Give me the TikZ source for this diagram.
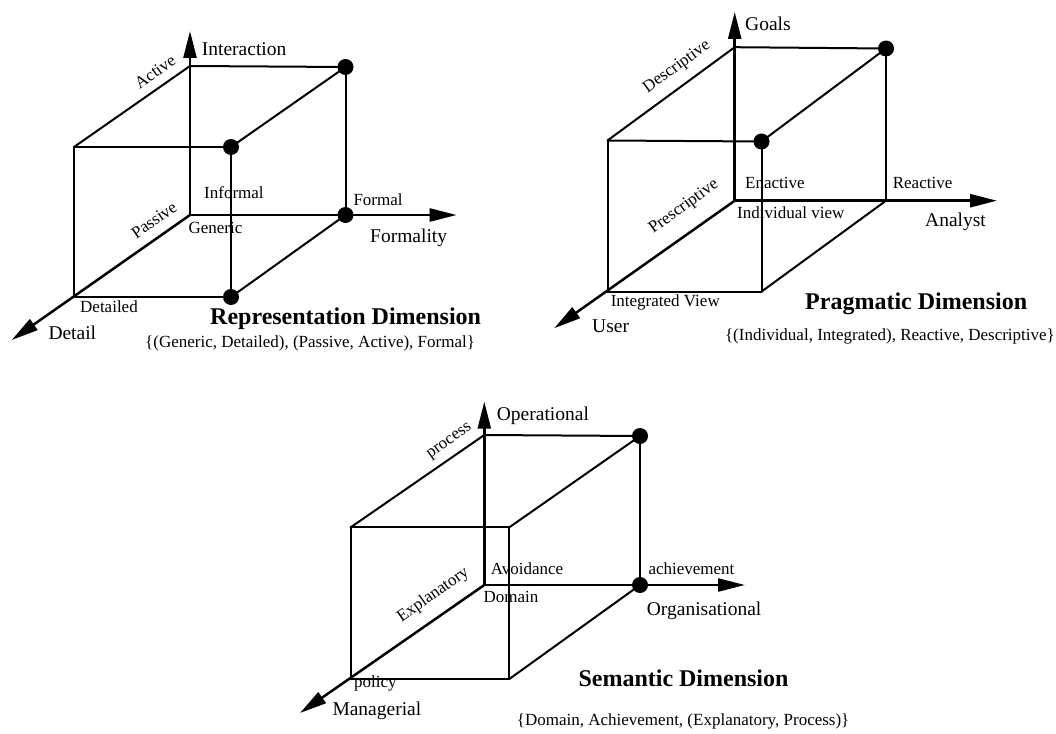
\documentclass[tikz,border=0pt]{standalone}
\usepackage{fontspec}
\setmainfont{Liberation Serif}
\usetikzlibrary{arrows.meta}

\begin{document}
\begin{tikzpicture} [
                x=1pt, y=-1pt,
                edge/.style = {draw, line width=2pt, line cap=round},
                axisline/.style = {draw, line width=2.5pt, -{Triangle[length=27pt,width=13pt]}},
                dot/.style = {circle, fill=black, minimum size=16pt, inner sep=0pt},
                smalltext/.style = {inner sep=0pt, font=\fontsize{17}{20}\selectfont},
                axistext/.style = {inner sep=0pt, font=\fontsize{19.5}{23}\selectfont},
                titletext/.style = {inner sep=0pt, font=\fontsize{24}{28}\selectfont\bfseries},
            ]
            \useasboundingbox (0,0) rectangle (1056,733);
            % First we place the corners of the three cubes
            \foreach \x/\y/\name in {
                    190/215/RO, 190/66/RT, 345.5/67/RU, 345.5/215/RV,
                    74/147/RA, 231/147/RB, 231/297/RC, 74/297/RD,
                    190/31/RY, 456.7/215/RX, 11.7/340/RZ,
                    734.7/200.7/PO, 734.7/47.2/PT, 886/48.5/PU, 886/200.7/PV,
                    607.5/140.5/PA, 761.5/141.5/PB, 761.5/291.6/PC, 607.5/291.6/PD,
                    734.7/12/PY, 997/200.7/PX, 554.2/328.2/PZ,
                    484.3/585/SO, 484.3/435/ST, 640/436/SU, 640/585/SV,
                    350.7/527.3/SA, 509.3/527.3/SB, 509.3/679/SC, 350.7/679/SD,
                    484.3/401.7/SY, 745/585/SX, 300/713/SZ}
                \coordinate (\name) at (\x,\y);
            % Connect corners with edges
            \foreach \cubeid in {R, P, S} {
                \foreach \source/\dest in {
                        A/B, B/C, C/D, D/A, A/T, T/U, U/V, B/U, C/V}
                    \path[edge] (\cubeid\source) -- (\cubeid\dest);
            }
            % the three axes of every cube
            \foreach \cubeid in {R, P, S} {
                \foreach \dest in {X, Y, Z}
                    \path[axisline] (\cubeid O) -- (\cubeid\dest);
            }
            % mark the chosen corners
            \foreach \corner in {RU, RV, RB, RC, PU, PB, SU, SV}
                \node[dot] (dot\corner) at (\corner) {};
            % Representation dimension
            \node[axistext, anchor=west] (interaction) at (201.7,49) {Interaction};
            \node[smalltext, rotate=35] (active) at (155,71.7) {Active};
            \node[smalltext, rotate=35] (passive) at (154,220) {Passive};
            \node[smalltext, anchor=west] (informal) at (204,192.7) {Informal};
            \node[smalltext, anchor=west] (generic) at (188.3,228.3) {Generic};
            \node[smalltext, anchor=west] (formal) at (353.3,200) {Formal};
            \node[axistext, anchor=west] (formality) at (370,238.3) {Formality};
            \node[smalltext, anchor=west] (detailed) at (80,306.7) {Detailed};
            \node[axistext, anchor=west] (detail) at (48.3,332.7) {Detail};
            \node[titletext, anchor=west] (reptitle) at (210,318.3) {Representation Dimension};
            \node[smalltext, anchor=west] (repset) at (145,343.3) {\{(Generic, Detailed), (Passive, Active), Formal\}};
            % Pragmatic dimension
            \node[axistext, anchor=west] (goals) at (745,24) {Goals};
            \node[smalltext, rotate=36] (descriptive) at (677,67) {Descriptive};
            \node[smalltext, rotate=36] (prescriptive) at (684,207) {Prescriptive};
            \node[smalltext, anchor=west] (enactive) at (745,183) {Enactive};
            \node[smalltext, anchor=west] (reactive) at (892.6,183) {Reactive};
            \node[smalltext, anchor=west] (individual) at (737,212.6) {Individual view};
            \node[axistext, anchor=west] (analyst) at (925,222) {Analyst};
            \node[smalltext, anchor=west] (integrated) at (610.6,302.6) {Integrated View};
            \node[axistext, anchor=west] (user) at (592,326.5) {User};
            \node[titletext, anchor=west] (pragtitle) at (805,304) {Pragmatic Dimension};
            \node[smalltext, anchor=east] (pragset) at (1055,336.7) {\{(Individual, Integrated), Reactive, Descriptive\}};
            % Semantic dimension
            \node[axistext, anchor=west] (operational) at (496.7,416) {Operational};
            \node[smalltext, rotate=35] (process) at (450,441.7) {process};
            \node[smalltext, anchor=west] (avoidance) at (490.7,568.3) {Avoidance};
            \node[smalltext, anchor=west] (achievement) at (648.3,568.3) {achievement};
            \node[smalltext, rotate=35] (explanatory) at (433.3,595) {Explanatory};
            \node[smalltext, anchor=west] (domain) at (483.3,596.7) {Domain};
            \node[axistext, anchor=west] (organisational) at (646.7,610.7) {Organisational};
            \node[smalltext, anchor=west] (policy) at (354,683.3) {policy};
            \node[axistext, anchor=west] (managerial) at (332.3,710.7) {Managerial};
            \node[titletext, anchor=west] (semtitle) at (578.3,678.3) {Semantic Dimension};
            \node[smalltext, anchor=west] (semset) at (516.7,721.7) {\{Domain, Achievement, (Explanatory, Process)\}};
        \end{tikzpicture}
\end{document}
